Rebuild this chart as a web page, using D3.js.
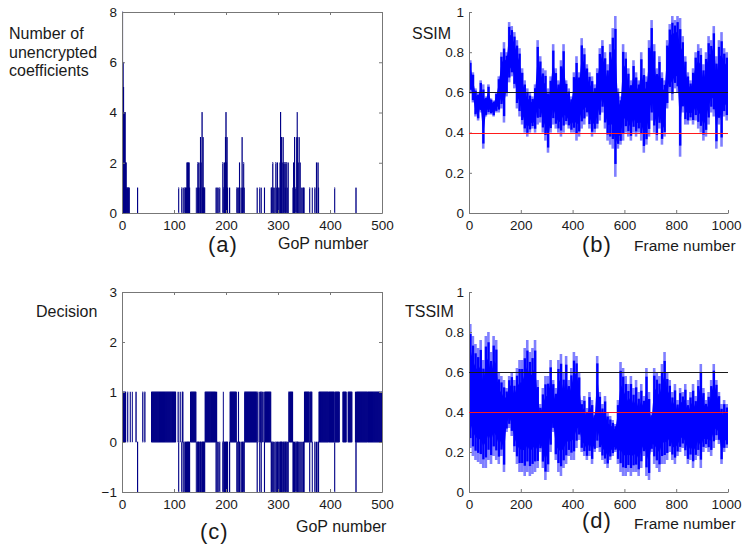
<!DOCTYPE html>
<html>
<head>
<meta charset="utf-8">
<script src="https://cdn.jsdelivr.net/npm/d3@7"></script>
<style>
  body { margin: 0; background: #fff; }
  svg text { font-family: "Liberation Sans", Arial, sans-serif; fill: #1a1a1a; }
</style>
</head>
<body>
<div id="chart"></div>
<script>
// ---- data ----
const gopTicks = [0, 100, 200, 300, 400, 500];
const frameTicks = [0, 200, 400, 600, 800, 1000];
const countTicks = [0, 2, 4, 6, 8];
const decisionTicks = [-1, 0, 1, 2, 3];
const ssimTicks = [0, 0.2, 0.4, 0.6, 0.8, 1];

// (a) GoPs with unencrypted coefficients: [GoP, count]
const unencrypted = [
  [1, 8], [2, 6], [3, 5], [4, 4], [5, 4], [6, 4], [7, 2], [8, 2], [9, 1], [10, 1], [11, 1], [12, 1], [13, 1], [14, 1],
  [30, 1], [109, 1], [115, 1], [118, 1], [121, 1], [122, 1], [124, 1], [125, 2], [126, 2], [127, 1], [128, 2], [129, 2], [130, 1],
  [143, 1], [145, 1], [146, 2], [147, 1], [148, 2], [150, 1], [151, 3], [152, 2], [154, 4], [155, 1], [156, 3], [157, 1], [158, 1], [159, 1],
  [181, 1], [183, 1], [185, 1], [188, 1], [194, 2], [196, 1], [197, 2], [199, 3], [200, 4], [201, 2], [202, 3], [203, 1], [207, 1],
  [221, 1], [223, 1], [225, 1], [226, 2], [229, 1], [231, 3], [232, 1], [234, 2], [235, 1],
  [260, 1], [265, 1], [268, 1], [274, 1],
  [287, 1], [288, 1], [290, 2], [291, 1], [293, 1], [296, 2], [297, 1], [299, 2], [300, 1], [302, 1], [304, 2], [305, 4], [306, 3], [307, 3],
  [308, 2], [310, 3], [311, 2], [313, 2], [314, 1], [315, 2], [317, 2], [318, 1], [320, 2],
  [329, 1], [330, 2], [332, 3], [334, 1], [336, 3], [337, 4], [338, 3], [339, 2], [341, 3], [343, 2], [345, 1], [347, 1], [349, 1], [350, 1],
  [361, 1], [366, 1], [371, 1], [374, 2], [377, 2], [378, 1], [409, 1], [450, 1]
];

// (c) decision is 1 except on these GoP ranges (0) and these GoPs (-1)
const decisionZeroRanges = [
  [8, 10], [12, 15], [17, 19], [21, 26], [28, 39], [41, 43], [45, 56],
  [104, 107], [110, 111], [113, 114], [119, 120], [123, 123], [131, 131],
  [144, 144], [149, 149], [153, 153], [184, 184], [186, 187], [189, 193], [198, 198],
  [204, 206], [222, 222], [227, 228], [230, 230], [233, 233], [262, 263], [271, 272],
  [289, 289], [292, 292], [294, 295], [298, 298], [301, 301], [303, 303], [309, 309], [312, 312], [316, 316], [319, 319],
  [331, 331], [333, 333], [335, 335], [340, 340], [342, 342], [344, 344], [346, 346], [348, 348],
  [367, 370], [372, 373], [375, 376], [419, 424], [432, 434], [443, 448]
];
const decisionNegative = [
  30, 109, 115, 118, 121, 122, 124, 125, 126, 127, 128, 129, 130,
  143, 145, 146, 147, 148, 150, 151, 152, 154, 155, 156, 157, 158, 159,
  181, 183, 185, 188, 194, 196, 197, 199, 200, 201, 202, 203, 207,
  221, 223, 225, 226, 229, 231, 232, 234, 235, 260, 265, 268, 274,
  287, 288, 290, 291, 293, 296, 297, 299, 300, 302, 304, 305, 306, 307, 308, 310, 311, 313, 314, 315, 317, 318, 320,
  329, 330, 332, 334, 336, 337, 338, 339, 341, 343, 345, 347, 349, 350,
  361, 366, 371, 374, 377, 378, 409, 450
];

// (b) SSIM, high / low reached inside each 10-frame block
const ssimHigh = [
  0.76, 0.70, 0.62, 0.60, 0.66, 0.64, 0.58, 0.64, 0.57, 0.56,
  0.60, 0.68, 0.80, 0.85, 0.80, 0.95, 0.93, 0.90, 0.86, 0.82,
  0.72, 0.66, 0.62, 0.60, 0.58, 0.64, 0.86, 0.78, 0.72, 0.71,
  0.62, 0.68, 0.84, 0.72, 0.66, 0.76, 0.84, 0.66, 0.62, 0.58,
  0.70, 0.78, 0.70, 0.87, 0.82, 0.74, 0.70, 0.68, 0.64, 0.72,
  0.82, 0.86, 0.80, 0.74, 0.84, 0.92, 0.98, 0.62, 0.58, 0.84,
  0.80, 0.72, 0.66, 0.76, 0.70, 0.66, 0.80, 0.72, 0.68, 0.86,
  0.96, 0.84, 0.72, 0.78, 0.70, 0.66, 0.86, 0.94, 0.98, 0.96,
  0.98, 0.97, 0.88, 0.78, 0.70, 0.66, 0.72, 0.80, 0.84, 0.82,
  0.74, 0.80, 0.88, 0.86, 0.93, 0.78, 0.86, 0.90, 0.82, 0.80
];
const ssimLow = [
  0.60, 0.55, 0.48, 0.46, 0.50, 0.32, 0.48, 0.49, 0.49, 0.48,
  0.50, 0.50, 0.52, 0.45, 0.58, 0.65, 0.68, 0.62, 0.52, 0.48,
  0.44, 0.40, 0.38, 0.40, 0.42, 0.40, 0.44, 0.45, 0.40, 0.36,
  0.30, 0.40, 0.44, 0.42, 0.40, 0.38, 0.40, 0.44, 0.42, 0.40,
  0.40, 0.36, 0.38, 0.42, 0.44, 0.48, 0.42, 0.38, 0.40, 0.42,
  0.46, 0.50, 0.42, 0.36, 0.34, 0.32, 0.18, 0.32, 0.34, 0.36,
  0.40, 0.38, 0.36, 0.40, 0.38, 0.40, 0.36, 0.30, 0.34, 0.38,
  0.46, 0.40, 0.36, 0.42, 0.34, 0.38, 0.52, 0.60, 0.56, 0.62,
  0.60, 0.28, 0.50, 0.44, 0.44, 0.46, 0.44, 0.46, 0.42, 0.40,
  0.36, 0.38, 0.44, 0.50, 0.48, 0.32, 0.44, 0.33, 0.48, 0.46
];

// (d) TSSIM, high / low reached inside each 10-frame block
const tssimHigh = [
  0.84, 0.78, 0.74, 0.72, 0.76, 0.66, 0.78, 0.80, 0.70, 0.78,
  0.76, 0.60, 0.58, 0.56, 0.52, 0.58, 0.60, 0.56, 0.62, 0.66,
  0.66, 0.72, 0.76, 0.70, 0.72, 0.76, 0.56, 0.44, 0.52, 0.58,
  0.58, 0.66, 0.56, 0.52, 0.66, 0.69, 0.60, 0.68, 0.56, 0.62,
  0.70, 0.68, 0.60, 0.46, 0.48, 0.42, 0.50, 0.46, 0.40, 0.68,
  0.50, 0.44, 0.48, 0.40, 0.38, 0.36, 0.34, 0.46, 0.65, 0.62,
  0.58, 0.54, 0.58, 0.52, 0.56, 0.50, 0.54, 0.48, 0.62, 0.50,
  0.40, 0.62, 0.60, 0.58, 0.64, 0.70, 0.60, 0.56, 0.50, 0.54,
  0.46, 0.52, 0.50, 0.54, 0.46, 0.50, 0.54, 0.48, 0.56, 0.64,
  0.52, 0.46, 0.50, 0.56, 0.64, 0.56, 0.50, 0.44, 0.46, 0.44
];
const tssimLow = [
  0.22, 0.18, 0.16, 0.15, 0.14, 0.12, 0.12, 0.16, 0.14, 0.18,
  0.16, 0.14, 0.18, 0.10, 0.30, 0.32, 0.28, 0.20, 0.14, 0.10,
  0.10, 0.08, 0.10, 0.08, 0.09, 0.10, 0.12, 0.20, 0.12, 0.06,
  0.10, 0.20, 0.30, 0.16, 0.10, 0.08, 0.12, 0.14, 0.18, 0.16,
  0.16, 0.22, 0.26, 0.20, 0.18, 0.16, 0.18, 0.14, 0.20, 0.22,
  0.20, 0.16, 0.14, 0.12, 0.16, 0.18, 0.20, 0.14, 0.10, 0.08,
  0.08, 0.10, 0.08, 0.10, 0.10, 0.08, 0.12, 0.18, 0.08, 0.06,
  0.20, 0.14, 0.12, 0.10, 0.14, 0.14, 0.16, 0.20, 0.16, 0.14,
  0.18, 0.20, 0.22, 0.18, 0.14, 0.16, 0.12, 0.16, 0.18, 0.12,
  0.20, 0.22, 0.20, 0.18, 0.22, 0.26, 0.24, 0.14, 0.20, 0.22
];

const blockSize = 10;
const blackLevel = 0.6;
const redLevel = 0.4;

// ---- drawing ----
const width = 742, height = 545;
const navy = "#000086";
const blue = "#0000ff";
const red = "#ff1a1a";
const axisColor = "#777";

const svg = d3.select("#chart").append("svg").attr("width", width).attr("height", height);

let clipCount = 0;
function makePanel(o) {
  const x = d3.scaleLinear().domain(o.xDomain).range([o.left, o.right]);
  const y = d3.scaleLinear().domain(o.yDomain).range([o.bottom, o.top]);
  const id = "clip" + clipCount++;
  svg.append("clipPath").attr("id", id).append("rect")
    .attr("x", o.left).attr("y", o.top - 1)
    .attr("width", o.right - o.left).attr("height", o.bottom - o.top + 1);
  const g = svg.append("g").attr("clip-path", `url(#${id})`);
  return { x, y, g, o };
}

function drawAxes(p) {
  const { x, y, o } = p;
  const bottom = svg.append("g").attr("transform", `translate(0,${o.bottom})`)
    .call(d3.axisBottom(x).tickValues(o.xTicks).tickSizeInner(-3).tickSizeOuter(0).tickPadding(7)
      .tickFormat(d3.format("d")));
  const left = svg.append("g").attr("transform", `translate(${o.left},0)`)
    .call(d3.axisLeft(y).tickValues(o.yTicks).tickSizeInner(-3).tickSizeOuter(0).tickPadding(5)
      .tickFormat(d3.format("")));
  [bottom, left].forEach((a) => {
    a.selectAll("path.domain").attr("stroke", axisColor);
    a.selectAll(".tick line").attr("stroke", axisColor);
    a.selectAll("text").attr("fill", "#1a1a1a")
      .style("font-size", "13.5px").style("font-family", "'Liberation Sans', Arial, sans-serif");
  });
  // the last frame label sits against the page edge
  if (o.xDomain[1] === 1000) {
    bottom.selectAll(".tick:last-of-type text").attr("text-anchor", "end").attr("dx", 13);
  }
  if (o.box) {
    const top = svg.append("g").attr("transform", `translate(0,${o.top})`)
      .call(d3.axisTop(x).tickValues(o.xTicks).tickSizeInner(-3).tickSizeOuter(0).tickFormat(""));
    const right = svg.append("g").attr("transform", `translate(${o.right},0)`)
      .call(d3.axisRight(y).tickValues(o.yTicks).tickSizeInner(-3).tickSizeOuter(0).tickFormat(""));
    [top, right].forEach((a) => {
      a.selectAll("path.domain").attr("stroke", axisColor);
      a.selectAll(".tick line").attr("stroke", axisColor);
    });
  }
}

function drawBars(p, data) {
  p.g.selectAll(null).data(data).join("rect")
    .attr("x", (d) => p.x(d[0] - 0.5))
    .attr("width", (d) => p.x(d[0] + 0.5) - p.x(d[0] - 0.5))
    .attr("y", (d) => Math.min(p.y(d[1]), p.y(0)))
    .attr("height", (d) => Math.abs(p.y(d[1]) - p.y(0)))
    .attr("fill", navy)
    .attr("stroke", navy)
    .attr("stroke-width", 0.6);
}

// each 10-frame block: pale over its full range, dense core over most of it
function drawEnvelope(p, high, low, startValue) {
  const blocks = high.map((h, i) => ({ f: i * blockSize, hi: h, lo: low[i] }));
  const g = p.g.append("g");
  g.selectAll(null).data(blocks).join("rect")
    .attr("x", (d) => p.x(d.f))
    .attr("width", (d) => p.x(d.f + blockSize) - p.x(d.f))
    .attr("y", (d) => p.y(d.hi))
    .attr("height", (d) => p.y(d.lo) - p.y(d.hi))
    .attr("fill", blue).attr("fill-opacity", 0.5);
  g.selectAll(null).data(blocks).join("rect")
    .attr("x", (d) => p.x(d.f + 1))
    .attr("width", (d) => p.x(d.f + blockSize) - p.x(d.f + 1))
    .attr("y", (d) => p.y(d.hi - 0.08 * (d.hi - d.lo)))
    .attr("height", (d) => p.y(d.lo + 0.08 * (d.hi - d.lo)) - p.y(d.hi - 0.08 * (d.hi - d.lo)))
    .attr("fill", blue);
  g.append("path")
    .datum(blocks)
    .attr("fill", blue)
    .attr("d", d3.area()
      .x((d) => p.x(d.f + blockSize / 2))
      .y0((d) => p.y(d.lo + 0.2 * (d.hi - d.lo)))
      .y1((d) => p.y(d.hi - 0.2 * (d.hi - d.lo))));
  g.append("line")
    .attr("x1", p.x(0) + 0.5).attr("x2", p.x(0) + 0.5)
    .attr("y1", p.y(startValue)).attr("y2", p.y(blocks[0].hi))
    .attr("stroke", blue).attr("stroke-opacity", 0.6);
}

function drawThresholds(p) {
  const x1 = p.x(p.o.xDomain[0]), x2 = p.x(p.o.xDomain[1]);
  const levels = [{ v: blackLevel, c: "#1a1a1a" }, { v: redLevel, c: red }];
  levels.forEach((l) => {
    svg.append("rect")
      .attr("x", x1).attr("width", x2 - x1)
      .attr("y", Math.round(p.y(l.v))).attr("height", 1)
      .attr("fill", l.c);
  });
}

function label(txt, x, y, size) {
  svg.append("text").attr("x", x).attr("y", y).style("font-size", size + "px").text(txt);
}

// (a)
const pa = makePanel({ left: 122, right: 382, top: 12, bottom: 213, xDomain: [0, 500], yDomain: [0, 8],
  xTicks: gopTicks, yTicks: countTicks, box: true });
drawBars(pa, unencrypted);
drawAxes(pa);

// (b)
const pb = makePanel({ left: 469, right: 728, top: 12, bottom: 213, xDomain: [0, 1000], yDomain: [0, 1],
  xTicks: frameTicks, yTicks: ssimTicks, box: false });
drawEnvelope(pb, ssimHigh, ssimLow, 0.78);
drawAxes(pb);
drawThresholds(pb);

// (c)
const decision = d3.range(1, 501).map((gop) => {
  if (decisionNegative.includes(gop)) return [gop, -1];
  if (decisionZeroRanges.some((r) => gop >= r[0] && gop <= r[1])) return [gop, 0];
  return [gop, 1];
}).filter((d) => d[1] !== 0);
const pc = makePanel({ left: 122, right: 382, top: 292, bottom: 492, xDomain: [0, 500], yDomain: [-1, 3],
  xTicks: gopTicks, yTicks: decisionTicks, box: true });
drawBars(pc, decision);
drawAxes(pc);

// (d)
const pd = makePanel({ left: 469, right: 728, top: 292, bottom: 492, xDomain: [0, 1000], yDomain: [0, 1],
  xTicks: frameTicks, yTicks: ssimTicks, box: false });
drawEnvelope(pd, tssimHigh, tssimLow, 0);
drawAxes(pd);
drawThresholds(pd);

// labels
label("Number of", 9, 39, 16);
label("unencrypted", 9, 57.5, 16);
label("coefficients", 9, 76, 16);
label("SSIM", 412, 39, 16);
label("Decision", 36, 317, 16);
label("TSSIM", 405, 317, 16);
label("GoP number", 278, 249, 16);
label("Frame number", 634, 251, 15.5);
label("GoP number", 296, 532, 16);
label("Frame number", 634, 529, 15.5);
svg.selectAll(null).data([["(a)", 208, 252], ["(b)", 582, 252], ["(c)", 200, 539], ["(d)", 582, 528]])
  .join("text")
  .attr("x", (d) => d[1]).attr("y", (d) => d[2])
  .style("font-size", "22px").style("letter-spacing", "1px")
  .text((d) => d[0]);
</script>
</body>
</html>
